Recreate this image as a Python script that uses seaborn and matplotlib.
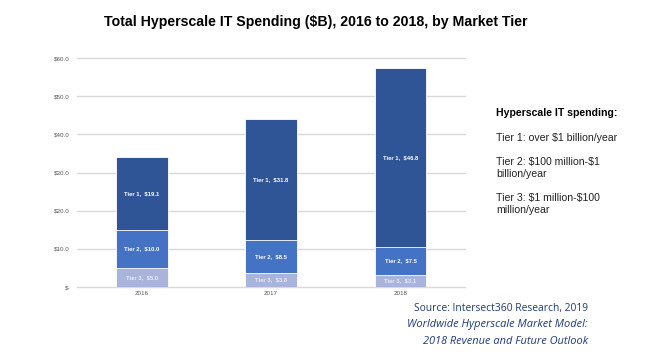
import matplotlib
matplotlib.use("Agg")
import matplotlib.pyplot as plt
import seaborn as sns
import pandas as pd
import numpy as np

years = ["2016", "2017", "2018"]
tier1 = [19.1, 31.8, 46.8]
tier2 = [10.0, 8.5, 7.5]
tier3 = [5.0, 3.8, 3.1]
yticks = [0, 10, 20, 30, 40, 50, 60]
ytick_labels = ["$-", "$10.0", "$20.0", "$30.0", "$40.0", "$50.0", "$60.0"]

sns.set_theme(style="white")
plt.rcParams['font.family'] = ['Liberation Sans', 'DejaVu Sans']
plt.rcParams['text.parse_math'] = False

fig = plt.figure(figsize=(6.47, 3.57), dpi=100)
ax = fig.add_axes([0.119, 0.196, 0.6, 0.6415])

t3 = np.array(tier3)
t2 = t3 + np.array(tier2)
t1 = t2 + np.array(tier1)
df = pd.DataFrame({"year": years, "t1": t1, "t2": t2, "t3": t3})

c1, c2, c3 = "#2F5597", "#4472C4", "#A9B4DC"
for col, c in [("t1", c1), ("t2", c2), ("t3", c3)]:
    sns.barplot(data=df, x="year", y=col, color=c, saturation=1, width=0.4,
                edgecolor="white", linewidth=0.6, ax=ax, zorder=3)

for i in range(3):
    segs = [(0, t3[i], f"Tier 3,  ${tier3[i]:.1f}", "#E8ECF7"),
            (t3[i], t2[i], f"Tier 2,  ${tier2[i]:.1f}", "white"),
            (t2[i], t1[i], f"Tier 1,  ${tier1[i]:.1f}", "white")]
    for lo, hi, txt, tc in segs:
        ax.text(i, (lo + hi) / 2, txt, ha="center", va="center", fontsize=4.2,
                color=tc, fontweight="bold", zorder=5)

ax.set_xlim(-0.5, 2.5)
ax.set_ylim(0, 60)
ax.set_yticks(yticks)
ax.set_yticklabels(ytick_labels, fontsize=4.5, color="#595959")
ax.tick_params(axis="x", labelsize=4.5, colors="#595959", length=0, pad=3)
ax.tick_params(axis="y", length=0, pad=5)
ax.grid(axis="y", color="#D9D9D9", linewidth=1.0, zorder=0)
ax.set_axisbelow(True)
for s in ax.spines.values():
    s.set_visible(False)
ax.set_xlabel("")
ax.set_ylabel("")
for ln in ax.get_ygridlines():
    ln.set_clip_on(False)

fig.text(316/647, 1 - 22/357, "Total Hyperscale IT Spending ($B), 2016 to 2018, by Market Tier",
         ha="center", va="center", fontsize=10.2, fontweight="bold", color="black")

fs = 7.6
fig.text(496/647, 1 - 113/357, "Hyperscale IT spending:", ha="left", va="center",
         fontsize=fs, fontweight="bold", color="black")
fig.text(496/647, 1 - 138/357, "Tier 1: over $1 billion/year", ha="left", va="center",
         fontsize=fs, color="#222222")
fig.text(496/647, 1 - 168/357, "Tier 2: $100 million-$1\nbillion/year", ha="left", va="center",
         fontsize=fs, color="#222222", linespacing=1.2)
fig.text(496/647, 1 - 204/357, "Tier 3: $1 million-$100\nmillion/year", ha="left", va="center",
         fontsize=fs, color="#222222", linespacing=1.2)

src_color = "#1F3A78"
sfs = 7.4
fig.text(588/647, 1 - 308/357, "Source: Intersect360 Research, 2019", ha="right", va="center",
         fontsize=sfs, color=src_color, family=["Open Sans", "DejaVu Sans"])
fig.text(588/647, 1 - 325/357, "Worldwide Hyperscale Market Model:", ha="right", va="center",
         fontsize=7.9, color=src_color, style="italic", family=["Open Sans", "DejaVu Sans"])
fig.text(588/647, 1 - 341/357, "2018 Revenue and Future Outlook", ha="right", va="center",
         fontsize=7.9, color=src_color, style="italic", family=["Open Sans", "DejaVu Sans"])

fig.savefig("out.png", dpi=100)
